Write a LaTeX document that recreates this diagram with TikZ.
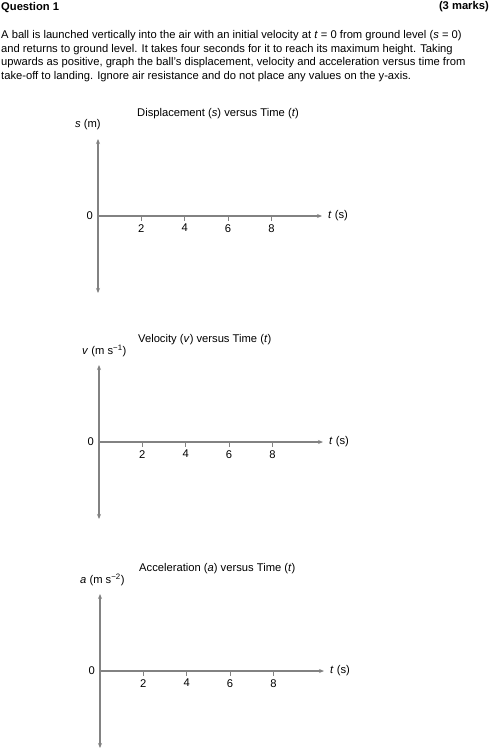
\documentclass[tikz,border=0pt]{standalone}
\usepackage{fontspec}
\setmainfont{Liberation Sans}
\usetikzlibrary{arrows.meta, positioning}
\definecolor{axisgray}{RGB}{130,130,130}

\begin{document}
\begin{tikzpicture}[x=1pt, y=-1pt, font=\fontsize{11.2}{13.8}\selectfont,
	>={Stealth[length=5pt, width=4pt]},
	axis/.style={draw=axisgray, line width=1.3pt},
	tickmark/.style={draw=axisgray, line width=1pt},
	ticklabel/.style={inner sep=0pt, anchor=north}]
	
	\useasboundingbox (0,0) rectangle (490,751);
	
	% Heading
	\node[anchor=north west, inner sep=0pt, font=\bfseries\fontsize{11.2}{13.8}\selectfont] (qhead) at (1,2) {Question 1};
	\node[anchor=north east, inner sep=0pt, font=\bfseries\fontsize{11.2}{13.8}\selectfont] (qmarks) at (489,1) {(3 marks)};
	
	% Question text
	\node[anchor=north west, inner sep=0pt, align=left] (qtext) at (1,30) {A ball is launched vertically into the air with an initial velocity at \textit{t} = 0 from ground level (\textit{s} = 0)\\
		and returns to ground level. It takes four seconds for it to reach its maximum height. Taking\\
		upwards as positive, graph the ball's displacement, velocity and acceleration versus time from\\
		take-off to landing. Ignore air resistance and do not place any values on the y-axis.};
	
	% the three graphs
	\foreach \ox/\oy/\lx/\gname/\gtitle/\yunit in {
		98/216/75/disp/{Displacement (\textit{s}) versus Time (\textit{t})}/{\textit{s} (m)},
		99/442/82/vel/{Velocity (\textit{v}) versus Time (\textit{t})}/{\textit{v} (m s\textsuperscript{−1})},
		100/671/80/acc/{Acceleration (\textit{a}) versus Time (\textit{t})}/{\textit{a} (m s\textsuperscript{−2})}} {
		
		\coordinate (\gname-o) at (\ox,\oy);
		\coordinate (\gname-top) at (\ox,\oy-77);
		\coordinate (\gname-bot) at (\ox,\oy+77);
		\coordinate (\gname-end) at (\ox+224,\oy);
		
		% Axes
		\draw[axis, <->] (\gname-bot) -- (\gname-top);
		\draw[axis, ->] (\gname-o) -- (\gname-end);
		
		\node[anchor=west, inner sep=0pt] (\gname-title) at (\ox+39,\oy-102) {\gtitle};
		\node[anchor=west, inner sep=0pt] (\gname-ylab) at (\lx,\oy-91) {\yunit};
		\node[anchor=west, inner sep=0pt, right=6pt of \gname-end] (\gname-xlab) {\textit{t} (s)};
		\node[anchor=east, inner sep=0pt, left=5pt of \gname-o] (\gname-zero) {0};
		
		%ticks
		\foreach \k in {2,4,6,8} {
			\draw[tickmark] (\ox+21.67*\k,\oy) -- (\ox+21.67*\k,\oy+5);
			\node[ticklabel] (\gname-tick\k) at (\ox+21.67*\k,\oy+8) {\k};
		}
	}
	
\end{tikzpicture}
\end{document}
